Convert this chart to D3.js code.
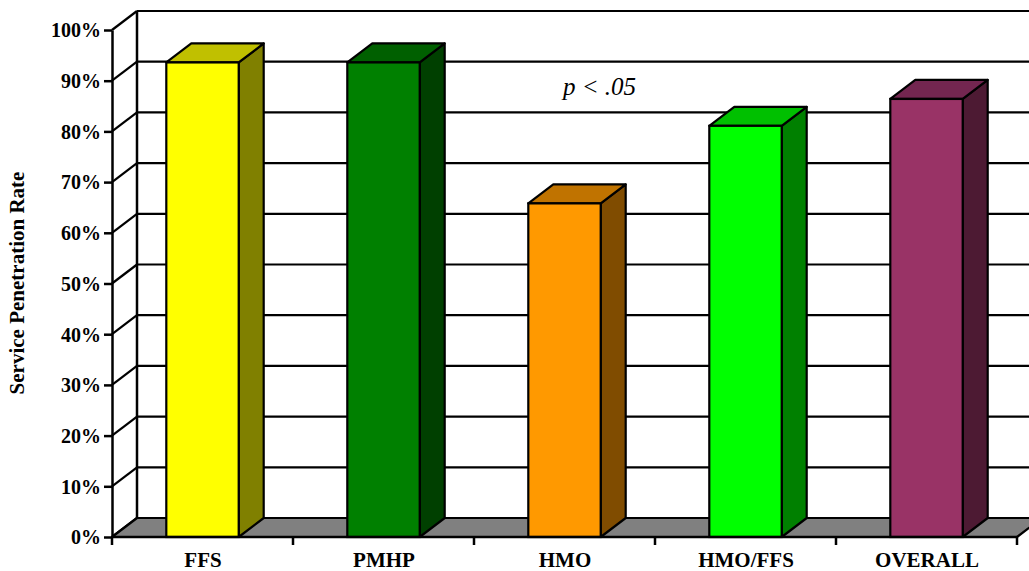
<!DOCTYPE html>
<html><head><meta charset="utf-8">
<script src="https://cdn.jsdelivr.net/npm/d3@7"></script>
<style>html,body{margin:0;padding:0;background:#fff;}svg{display:block;}</style>
</head><body>
<svg id="chart" width="1029" height="571"></svg>
<script>
const categories = ["FFS", "PMHP", "HMO", "HMO/FFS", "OVERALL"];
const values = [93.6, 93.6, 65.8, 81.1, 86.4];
const frontColors = ["#FFFF00", "#008000", "#FF9900", "#00FF00", "#993366"];
const topColors = ["#C0C000", "#006000", "#C07300", "#00C000", "#732650"];
const sideColors = ["#808000", "#004000", "#804C00", "#008000", "#4D1A33"];
const yTicks = [0, 10, 20, 30, 40, 50, 60, 70, 80, 90, 100];
const yTitle = "Service Penetration Rate";
const note = "p < .05";

const svg = d3.select("#chart");
const W = 1029, H = 571;
const mLeft = 112, mRight = 1017, mBottom = 537, mTop = 30;
const DX = 25, DY = -19;

const x = d3.scaleBand().domain(categories).range([mLeft, mRight]).padding(0);
const y = d3.scaleLinear().domain([0, 100]).range([mBottom, mTop]);
const barW = x.bandwidth() * 0.4;

const font = "'Liberation Serif','Times New Roman',serif";

// back wall gridlines
svg.append("g").selectAll("line.grid").data(yTicks).enter().append("line")
  .attr("x1", mLeft + DX).attr("x2", W + 20)
  .attr("y1", d => y(d) + DY).attr("y2", d => y(d) + DY)
  .attr("stroke", "#000").attr("stroke-width", 2.2);
// back wall left edge
svg.append("line").attr("x1", mLeft + DX).attr("x2", mLeft + DX)
  .attr("y1", y(100) + DY).attr("y2", y(0) + DY)
  .attr("stroke", "#000").attr("stroke-width", 2.5);
// side wall diagonals
svg.append("g").selectAll("line.diag").data(yTicks).enter().append("line")
  .attr("x1", mLeft).attr("x2", mLeft + DX)
  .attr("y1", d => y(d)).attr("y2", d => y(d) + DY)
  .attr("stroke", "#000").attr("stroke-width", 2.2);

// floor
svg.append("path")
  .attr("d", `M${mLeft},${y(0)} L${mRight},${y(0)} L${mRight + DX},${y(0) + DY} L${mLeft + DX},${y(0) + DY} Z`)
  .attr("fill", "#808080").attr("stroke", "#000").attr("stroke-width", 2.2).attr("stroke-linejoin", "round");

// bars
const bars = svg.append("g").selectAll("g.bar").data(categories).enter().append("g");
bars.each(function (c, i) {
  const g = d3.select(this);
  const x0 = x(c) + (x.bandwidth() - barW) / 2;
  const x1 = x0 + barW;
  const yt = y(values[i]);
  const yb = y(0);
  g.append("path")
    .attr("d", `M${x1},${yb} L${x1 + DX},${yb + DY} L${x1 + DX},${yt + DY} L${x1},${yt} Z`)
    .attr("fill", sideColors[i]).attr("stroke", "#000").attr("stroke-width", 2.2).attr("stroke-linejoin", "round");
  g.append("path")
    .attr("d", `M${x0},${yt} L${x1},${yt} L${x1 + DX},${yt + DY} L${x0 + DX},${yt + DY} Z`)
    .attr("fill", topColors[i]).attr("stroke", "#000").attr("stroke-width", 2.2).attr("stroke-linejoin", "round");
  g.append("rect")
    .attr("x", x0).attr("y", yt).attr("width", barW).attr("height", yb - yt)
    .attr("fill", frontColors[i]).attr("stroke", "#000").attr("stroke-width", 2.2);
});

// y axis
const yAxis = d3.axisLeft(y).tickValues(yTicks).tickFormat(d => d + "%").tickSize(8).tickSizeOuter(0);
const ga = svg.append("g").attr("transform", `translate(${mLeft},0)`).call(yAxis);
ga.select(".domain").attr("stroke", "#000").attr("stroke-width", 2.5);
ga.selectAll(".tick line").attr("stroke", "#000").attr("stroke-width", 2.5);
ga.selectAll(".tick text").attr("font-family", font).attr("font-weight", "bold")
  .attr("font-size", 20).attr("fill", "#000").attr("x", -11).attr("dy", "0.34em");

// x axis baseline and ticks
svg.append("line").attr("x1", mLeft).attr("x2", mRight).attr("y1", y(0)).attr("y2", y(0))
  .attr("stroke", "#000").attr("stroke-width", 2.5);
const tickXs = categories.map(c => x(c)).concat([x.range()[1]]);
svg.append("g").selectAll("line").data(tickXs).enter().append("line")
  .attr("x1", d => d).attr("x2", d => d).attr("y1", y(0)).attr("y2", y(0) + 8)
  .attr("stroke", "#000").attr("stroke-width", 2.5);
svg.append("g").selectAll("text").data(categories).enter().append("text")
  .attr("x", d => x(d) + x.bandwidth() / 2 + 0.5).attr("y", 567)
  .attr("text-anchor", "middle").attr("font-family", font).attr("font-weight", "bold")
  .attr("font-size", 21).attr("fill", "#000").text(d => d);

// y title
svg.append("text").attr("transform", "translate(24,283) rotate(-90)")
  .attr("text-anchor", "middle").attr("font-family", font).attr("font-weight", "bold")
  .attr("font-size", 21).attr("fill", "#000").text(yTitle);

// note
svg.append("text").attr("x", 563).attr("y", 95)
  .attr("font-family", font).attr("font-style", "italic")
  .attr("font-size", 25).attr("fill", "#000").text(note);
</script>
</body></html>
